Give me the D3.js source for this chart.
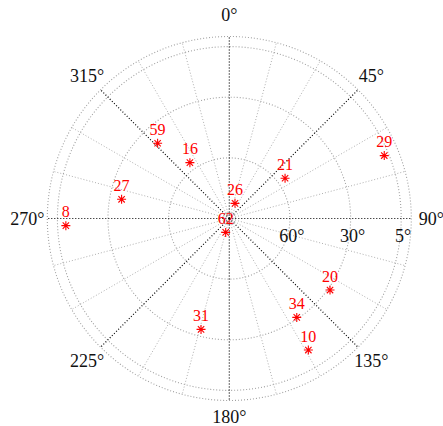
<!DOCTYPE html>
<html>
<head>
<meta charset="utf-8">
<script src="https://cdn.jsdelivr.net/npm/d3@7"></script>
<style>
  body { margin: 0; background: #fff; }
</style>
</head>
<body>
<div id="skyplot"></div>
<script>
// satellite ids, azimuth (deg, clockwise from north) and elevation (deg)
var satIds = ["59", "16", "21", "29", "27", "8", "26", "62", "20", "34", "10", "31"];
var azimuth = [316.4, 324.8, 54.2, 67.9, 280.1, 267.5, 20.6, 194.6, 125.4, 145.7, 149, 194.3];
var elevation = [38.6, 56.2, 56.0, 7.3, 35.9, 9.1, 82, 82.9, 28.9, 30.8, 14.1, 33.4];

// elevation rings and labels
var ringValues = [87, 60, 30, 5, 0];
var ringLabels = [60, 30, 5];
var azTicks = d3.range(0, 360, 45);
var spokeAngles = d3.range(0, 360, 15);

var svgWidth = 443;
var svgHeight = 426;
var cx = 229.3, cy = 218.5;
var R = 182;
var serif = "'Liberation Serif', 'Times New Roman', serif";

var svg = d3.select("#skyplot")
  .append("svg")
  .attr("width", svgWidth)
  .attr("height", svgHeight);

var g = svg.append("g")
  .attr("transform", `translate(${cx}, ${cy})`);

// radius from elevation, zenith in the middle
var rScale = d3.scaleLinear().domain([90, 0]).range([0, R]);
var toRad = d => d * Math.PI / 180;
function px(az, el) { return rScale(el) * Math.sin(toRad(az)); }
function py(az, el) { return -rScale(el) * Math.cos(toRad(az)); }

// light spokes every 15 deg
g.selectAll(".spoke")
  .data(spokeAngles.filter(a => a % 45 !== 0))
  .enter()
  .append("line")
  .attr("x1", 0).attr("y1", 0)
  .attr("x2", a => px(a, 0))
  .attr("y2", a => py(a, 0))
  .attr("stroke", "#b0b0b0")
  .attr("stroke-width", 1)
  .attr("stroke-dasharray", "1,2");

// rings
g.selectAll(".ring")
  .data(ringValues)
  .enter()
  .append("circle")
  .attr("r", d => rScale(d))
  .attr("fill", "none")
  .attr("stroke", "#a0a0a0")
  .attr("stroke-width", 1.1)
  .attr("stroke-dasharray", "1,2");

// dark spokes every 45 deg
g.selectAll(".mainSpoke")
  .data(azTicks)
  .enter()
  .append("line")
  .attr("x1", 0).attr("y1", 0)
  .attr("x2", a => px(a, 0))
  .attr("y2", a => py(a, 0))
  .attr("stroke", "#000")
  .attr("stroke-width", 1.2)
  .attr("stroke-dasharray", "1,2");

// azimuth labels
g.selectAll(".azLabel")
  .data(azTicks)
  .enter()
  .append("text")
  .attr("x", a => (a % 180 === 90 ? 202 : 201) * Math.sin(toRad(a)))
  .attr("y", a => -201 * Math.cos(toRad(a)) - (a % 180 === 0 ? 3 : 0) + 6)
  .attr("text-anchor", "middle")
  .attr("font-family", serif)
  .attr("font-size", "18px")
  .attr("fill", "#111")
  .text(a => a + "°");

// elevation labels along the 90 deg spoke
g.selectAll(".elLabel")
  .data(ringLabels)
  .enter()
  .append("text")
  .attr("x", d => rScale(d) + 2)
  .attr("y", 23)
  .attr("text-anchor", "middle")
  .attr("font-family", serif)
  .attr("font-size", "18px")
  .attr("fill", "#111")
  .text(d => d + "°");

// asterisk markers
var sats = satIds.map((id, i) => ({ id: id, az: azimuth[i], el: elevation[i] }));

var marks = g.selectAll(".sat")
  .data(sats)
  .enter()
  .append("g")
  .attr("transform", d => `translate(${px(d.az, d.el)}, ${py(d.az, d.el)})`);

marks.append("path")
  .attr("d", d3.symbol().type({
    draw: function(ctx, size) {
      var s = 4.5;
      for (var k = 0; k < 4; k++) {
        var a = k * Math.PI / 4;
        ctx.moveTo(-s * Math.cos(a), -s * Math.sin(a));
        ctx.lineTo(s * Math.cos(a), s * Math.sin(a));
      }
    }
  }))
  .attr("fill", "none")
  .attr("stroke", "#ff0000")
  .attr("stroke-width", 1.1);

marks.append("text")
  .attr("x", 0)
  .attr("y", -8.5)
  .attr("text-anchor", "middle")
  .attr("font-family", serif)
  .attr("font-size", "16px")
  .attr("fill", "#ff0000")
  .text(d => d.id);
</script>
</body>
</html>
